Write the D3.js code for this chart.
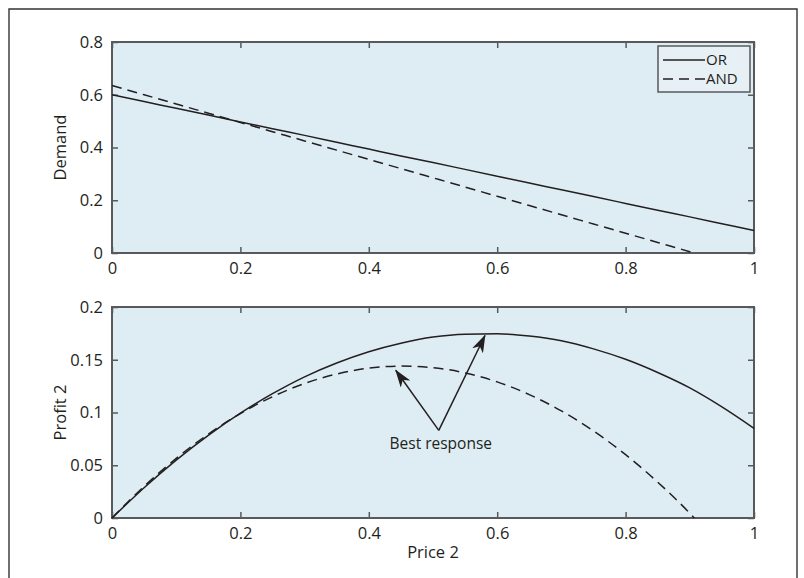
<!DOCTYPE html>
<html>
<head>
<meta charset="utf-8">
<script src="https://cdn.jsdelivr.net/npm/d3@7"></script>
<style>
  body { margin: 0; background: #fff; }
  svg text { font-family: "Open Sans", "Noto Sans", sans-serif; fill: #231f20; }
</style>
</head>
<body>
<svg id="drawing_region"></svg>
<script>
// price grid
var price = [0, 0.05, 0.1, 0.15, 0.2, 0.25, 0.3, 0.35, 0.4, 0.45, 0.5, 0.55, 0.6, 0.65, 0.7, 0.75, 0.8, 0.85, 0.9, 0.95, 1.0];
var demandOR  = [0.600, 0.574, 0.549, 0.523, 0.497, 0.471, 0.446, 0.420, 0.394, 0.368, 0.343, 0.317, 0.291, 0.265, 0.240, 0.214, 0.188, 0.162, 0.137, 0.111, 0.085];
var profitOR  = [0, 0.0287, 0.0549, 0.0784, 0.0994, 0.1178, 0.1338, 0.1469, 0.1576, 0.1657, 0.1715, 0.1742, 0.1746, 0.1724, 0.1680, 0.1603, 0.1504, 0.1379, 0.1233, 0.1053, 0.0850];
// AND curve stops where it hits zero
var priceAND  = [0, 0.05, 0.1, 0.15, 0.2, 0.25, 0.3, 0.35, 0.4, 0.45, 0.5, 0.55, 0.6, 0.65, 0.7, 0.75, 0.8, 0.85, 0.9, 0.907];
var demandAND = [0.635, 0.600, 0.565, 0.530, 0.495, 0.460, 0.425, 0.390, 0.355, 0.320, 0.285, 0.250, 0.215, 0.180, 0.145, 0.110, 0.075, 0.040, 0.005, 0];
var profitAND = [0, 0.0300, 0.0565, 0.0795, 0.0990, 0.1150, 0.1275, 0.1365, 0.1420, 0.1440, 0.1425, 0.1375, 0.1290, 0.1170, 0.1015, 0.0825, 0.0600, 0.0340, 0.0045, 0];

var xTicks = [0, 0.2, 0.4, 0.6, 0.8, 1];
var demandTicks = [0, 0.2, 0.4, 0.6, 0.8];
var profitTicks = [0, 0.05, 0.1, 0.15, 0.2];
var legendLabels = ['OR', 'AND'];
// "Best response" arrows: from the label to each peak
var arrowFrom = [0.509, 0.083];
var arrowTips = [[0.442, 0.140], [0.581, 0.173]];

var W = 804, H = 578;
var ink = '#231f20', frame = '#58595b', panel = '#deedf4';
var fs = 16.5;

var svg = d3.select('#drawing_region').attr('width', W).attr('height', H);

// outer box (open at the bottom)
svg.append('path')
    .attr('d', 'M9,' + (H + 2) + 'V9H797V' + (H + 2))
    .attr('fill', 'none').attr('stroke', '#333').attr('stroke-width', 1.4);

svg.append('defs').append('marker')
    .attr('id', 'head')
    .attr('viewBox', '0 0 18 12')
    .attr('refX', 17).attr('refY', 6)
    .attr('markerWidth', 18).attr('markerHeight', 12)
    .attr('markerUnits', 'userSpaceOnUse')
    .attr('orient', 'auto')
    .append('path')
    .attr('d', 'M0,0L18,6L0,12L5,6Z')
    .attr('fill', ink);

var left = 112, right = 754;
var x = d3.scaleLinear().domain([0, 1]).range([left, right]);

function panelAxes(top, bottom, yDomain, yTicks, yFmt, label) {
    var y = d3.scaleLinear().domain(yDomain).range([bottom, top]);
    var g = svg.append('g');
    g.append('rect')
        .attr('x', left).attr('y', top)
        .attr('width', right - left).attr('height', bottom - top)
        .attr('fill', panel);

    var tl = 6;
    var axB = g.append('g').attr('transform', 'translate(0,' + bottom + ')')
        .call(d3.axisBottom(x).tickValues(xTicks).tickSizeInner(-tl).tickSizeOuter(0).tickPadding(9).tickFormat(d3.format('~g')));
    var axT = g.append('g').attr('transform', 'translate(0,' + top + ')')
        .call(d3.axisTop(x).tickValues(xTicks).tickSizeInner(-tl).tickSizeOuter(0).tickFormat(''));
    var axL = g.append('g').attr('transform', 'translate(' + left + ',0)')
        .call(d3.axisLeft(y).tickValues(yTicks).tickSizeInner(-tl).tickSizeOuter(0).tickPadding(9).tickFormat(yFmt));
    var axR = g.append('g').attr('transform', 'translate(' + right + ',0)')
        .call(d3.axisRight(y).tickValues(yTicks).tickSizeInner(-tl).tickSizeOuter(0).tickFormat(''));
    [axB, axT, axL, axR].forEach(function (a) {
        a.attr('font-size', fs);
        a.select('.domain').remove();
        a.selectAll('line').attr('stroke', frame).attr('stroke-width', 1.5);
        a.selectAll('text').attr('fill', ink)
            .style('font-family', '"Open Sans", "Noto Sans", sans-serif');
    });
    g.append('rect')
        .attr('x', left).attr('y', top)
        .attr('width', right - left).attr('height', bottom - top)
        .attr('fill', 'none').attr('stroke', frame).attr('stroke-width', 2);

    svg.append('text')
        .attr('transform', 'translate(66,' + ((top + bottom) / 2) + ') rotate(-90)')
        .attr('text-anchor', 'middle')
        .attr('font-size', fs)
        .text(label);
    return y;
}

var yD = panelAxes(42, 253, [0, 0.8], demandTicks, d3.format('~g'), 'Demand');
var yP = panelAxes(307, 518, [0, 0.2], profitTicks, d3.format('~g'), 'Profit 2');

function drawLine(xs, ys, yScale, dashed) {
    var pts = xs.map(function (d, i) { return [d, ys[i]]; });
    svg.append('path')
        .datum(pts)
        .attr('d', d3.line().x(function (d) { return x(d[0]); }).y(function (d) { return yScale(d[1]); }).curve(d3.curveMonotoneX))
        .attr('fill', 'none')
        .attr('stroke', ink)
        .attr('stroke-width', 1.5)
        .attr('stroke-dasharray', dashed ? '10,6' : null);
}

drawLine(price, demandOR, yD, false);
drawLine(priceAND, demandAND, yD, true);
drawLine(price, profitOR, yP, false);
drawLine(priceAND, profitAND, yP, true);

// legend
var lg = svg.append('g');
lg.append('rect').attr('x', 658).attr('y', 46).attr('width', 92).attr('height', 46)
    .attr('fill', '#e6f0f5').attr('stroke', frame).attr('stroke-width', 1.5);
legendLabels.forEach(function (t, i) {
    var yy = 60 + i * 19;
    lg.append('line').attr('x1', 663).attr('x2', 705).attr('y1', yy).attr('y2', yy)
        .attr('stroke', ink).attr('stroke-width', 1.5)
        .attr('stroke-dasharray', i === 1 ? '10,6' : null);
    lg.append('text').attr('x', 706).attr('y', yy + 5).attr('font-size', 15).text(t);
});

// annotation
arrowTips.forEach(function (t) {
    svg.append('line')
        .attr('x1', x(arrowFrom[0])).attr('y1', yP(arrowFrom[1]))
        .attr('x2', x(t[0])).attr('y2', yP(t[1]))
        .attr('stroke', ink).attr('stroke-width', 1.5)
        .attr('marker-end', 'url(#head)');
});
svg.append('text')
    .attr('x', x(arrowFrom[0]) + 2).attr('y', yP(arrowFrom[1]) + 19)
    .attr('text-anchor', 'middle')
    .attr('font-size', 15.5)
    .text('Best response');

svg.append('text')
    .attr('x', (left + right) / 2).attr('y', 558)
    .attr('text-anchor', 'middle')
    .attr('font-size', fs)
    .text('Price 2');
</script>
</body>
</html>
